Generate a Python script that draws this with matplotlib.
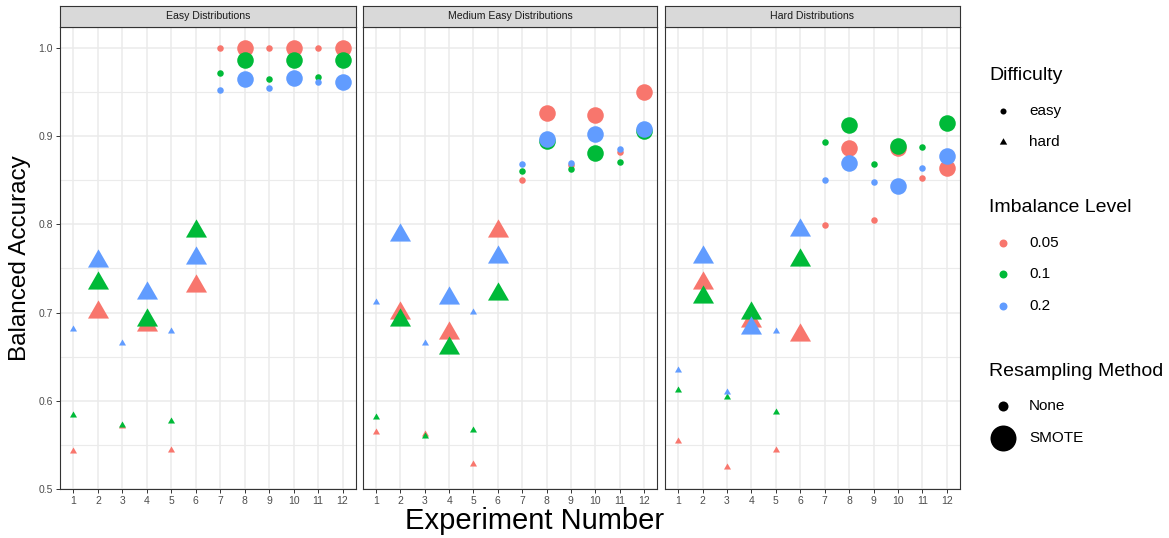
import matplotlib
matplotlib.use("Agg")
import matplotlib.pyplot as plt
from matplotlib.path import Path

plt.rcParams['font.family'] = ['Liberation Sans', 'DejaVu Sans']

# --- data -------------------------------------------------------------
experiments = [1, 2, 3, 4, 5, 6, 7, 8, 9, 10, 11, 12]
difficulty = ['hard', 'hard', 'hard', 'hard', 'hard', 'hard',
              'easy', 'easy', 'easy', 'easy', 'easy', 'easy']
resampling = ['None', 'SMOTE', 'None', 'SMOTE', 'None', 'SMOTE',
              'None', 'SMOTE', 'None', 'SMOTE', 'None', 'SMOTE']
imbalance_levels = ['0.05', '0.1', '0.2']
panel_titles = ['Easy Distributions', 'Medium Easy Distributions', 'Hard Distributions']

# balanced accuracy per panel, per imbalance level
easy_005 = [0.543, 0.701, 0.571, 0.686, 0.544, 0.730, 1.000, 1.000, 1.000, 1.000, 1.000, 1.000]
easy_01 = [0.584, 0.734, 0.573, 0.692, 0.577, 0.793, 0.972, 0.986, 0.965, 0.986, 0.967, 0.986]
easy_02 = [0.681, 0.758, 0.666, 0.722, 0.679, 0.762, 0.952, 0.965, 0.955, 0.966, 0.961, 0.961]

med_005 = [0.565, 0.700, 0.562, 0.677, 0.528, 0.793, 0.850, 0.926, 0.867, 0.924, 0.882, 0.950]
med_01 = [0.582, 0.692, 0.560, 0.660, 0.567, 0.721, 0.861, 0.895, 0.863, 0.881, 0.871, 0.906]
med_02 = [0.712, 0.788, 0.665, 0.716, 0.701, 0.763, 0.868, 0.897, 0.870, 0.902, 0.885, 0.908]

hard_005 = [0.554, 0.733, 0.525, 0.690, 0.544, 0.675, 0.799, 0.886, 0.805, 0.886, 0.853, 0.864]
hard_01 = [0.612, 0.718, 0.604, 0.699, 0.587, 0.760, 0.893, 0.913, 0.868, 0.889, 0.888, 0.915]
hard_02 = [0.635, 0.763, 0.610, 0.682, 0.679, 0.794, 0.850, 0.870, 0.848, 0.843, 0.864, 0.877]

panels = [[easy_005, easy_01, easy_02],
          [med_005, med_01, med_02],
          [hard_005, hard_01, hard_02]]

# --- style ------------------------------------------------------------
colors = ['#F8766D', '#00BA38', '#619CFF']
# equilateral triangle centred on its centroid (like R's pch 17)
tri = Path([(0, 0.577), (-0.5, -0.289), (0.5, -0.289), (0, 0.577)],
           [Path.MOVETO, Path.LINETO, Path.LINETO, Path.CLOSEPOLY])
markers = {'easy': 'o', 'hard': tri}
sizes = {('easy', 'None'): 22, ('easy', 'SMOTE'): 142,
         ('hard', 'None'): 34, ('hard', 'SMOTE'): 305}
border = '#333333'
grid = '#EBEBEB'
ticklab = '#4D4D4D'

W, H = 1169, 538
fig = plt.figure(figsize=(W / 100, H / 100), dpi=100)

panel_x = [(60, 356), (362.7, 657.3), (664.7, 960.3)]
top, bottom, strip_top = 26.7, 489, 6

for p, (x0, x1) in enumerate(panel_x):
    ax = fig.add_axes([x0 / W, (H - bottom) / H, (x1 - x0) / W, (bottom - top) / H])
    for series, col in zip(panels[p], colors):
        for d in ['easy', 'hard']:
            for r in ['None', 'SMOTE']:
                xs = [e for e, dd, rr in zip(experiments, difficulty, resampling) if dd == d and rr == r]
                ys = [v for v, dd, rr in zip(series, difficulty, resampling) if dd == d and rr == r]
                ax.scatter(xs, ys, s=sizes[(d, r)], marker=markers[d], color=col,
                           linewidths=0, zorder=3)
    ax.set_xlim(0.45, 12.55)
    ax.set_ylim(0.5, 1.024)
    ax.set_xticks(experiments)
    ax.set_xticklabels([str(e) for e in experiments])
    ax.set_yticks([0.5, 0.6, 0.7, 0.8, 0.9, 1.0])
    ax.set_yticks([0.55, 0.65, 0.75, 0.85, 0.95], minor=True)
    ax.grid(True, which='major', color=grid, linewidth=1.1, zorder=0)
    ax.grid(True, which='minor', axis='y', color=grid, linewidth=0.8, zorder=0)
    ax.set_axisbelow(True)
    ax.tick_params(which='major', length=3, width=0.7, color=border,
                   labelsize=7.5, labelcolor=ticklab, pad=2)
    ax.tick_params(which='minor', length=0)
    if p > 0:
        ax.tick_params(axis='y', left=False, labelleft=False)
    else:
        ax.set_yticklabels(['0.5', '0.6', '0.7', '0.8', '0.9', '1.0'])
    for s in ax.spines.values():
        s.set_color(border)
        s.set_linewidth(0.8)

    # facet strip
    sax = fig.add_axes([x0 / W, (H - top) / H, (x1 - x0) / W, (top - strip_top) / H])
    sax.set_facecolor('#D9D9D9')
    sax.set_xticks([])
    sax.set_yticks([])
    for s in sax.spines.values():
        s.set_color(border)
        s.set_linewidth(0.8)
    sax.text(0.5, 0.5, panel_titles[p], ha='center', va='center',
             fontsize=7.6, color='#1A1A1A', transform=sax.transAxes)

# axis titles
fig.text(20 / W, 1 - 258 / H, 'Balanced Accuracy', rotation=90, ha='center',
         va='center', fontsize=17.5)
fig.text(535 / W, 1 - 521 / H, 'Experiment Number', ha='center', va='center',
         fontsize=21)

# legends, laid out in pixel coordinates
lax = fig.add_axes([0, 0, 1, 1], zorder=5)
lax.set_xlim(0, W)
lax.set_ylim(H, 0)
lax.axis('off')
lax.patch.set_alpha(0)

kx, tx, hx = 1003, 1029, 989
lax.text(hx, 76, 'Difficulty', fontsize=14, va='center')
lax.scatter([kx], [111], s=19, marker='o', color='black', linewidths=0)
lax.text(tx, 111, 'easy', fontsize=11, va='center')
lax.scatter([kx], [142], s=38, marker=tri, color='black', linewidths=0)
lax.text(tx, 142, 'hard', fontsize=11, va='center')

lax.text(hx, 208, 'Imbalance Level', fontsize=14, va='center')
for lvl, col, yy in zip(imbalance_levels, colors, [243, 274, 306]):
    lax.scatter([kx], [yy], s=33, marker='o', color=col, linewidths=0)
    lax.text(tx, yy, lvl, fontsize=11, va='center')

lax.text(hx, 372, 'Resampling Method', fontsize=14, va='center')
lax.scatter([kx], [406], s=52, marker='o', color='black', linewidths=0)
lax.text(tx, 406, 'None', fontsize=11, va='center')
lax.scatter([kx], [438], s=350, marker='o', color='black', linewidths=0)
lax.text(tx, 438, 'SMOTE', fontsize=11, va='center')

fig.savefig('out.png', dpi=100)
